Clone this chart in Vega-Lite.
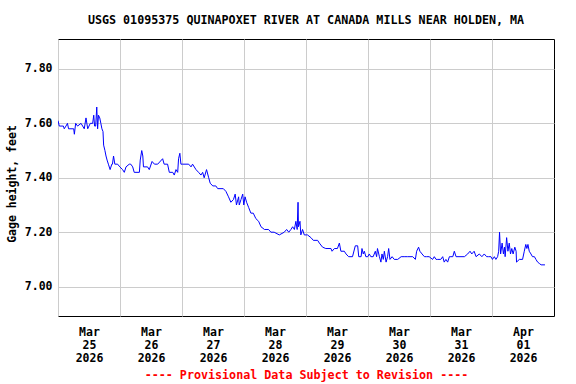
{
  "$schema": "https://vega.github.io/schema/vega-lite/v6.json",
  "width": 496,
  "height": 277,
  "autosize": "none",
  "padding": {"left": 58, "top": 39, "right": 22, "bottom": 68},
  "background": "white",
  "view": {"stroke": "black", "strokeWidth": 1},
  "title": {
    "text": "USGS 01095375 QUINAPOXET RIVER AT CANADA MILLS NEAR HOLDEN, MA",
    "font": "DejaVu Sans Mono",
    "fontSize": 11.7,
    "fontWeight": "bold",
    "color": "black",
    "anchor": "middle",
    "baseline": "alphabetic",
    "offset": 3
  },
  "data": {
    "values": [
      {"t": "2026-03-25T00:00", "v": 7.61},
      {"t": "2026-03-25T00:30", "v": 7.59},
      {"t": "2026-03-25T02:05", "v": 7.59},
      {"t": "2026-03-25T02:25", "v": 7.58},
      {"t": "2026-03-25T03:05", "v": 7.59},
      {"t": "2026-03-25T03:40", "v": 7.60},
      {"t": "2026-03-25T04:05", "v": 7.58},
      {"t": "2026-03-25T06:05", "v": 7.58},
      {"t": "2026-03-25T06:20", "v": 7.56},
      {"t": "2026-03-25T06:50", "v": 7.60},
      {"t": "2026-03-25T07:35", "v": 7.59},
      {"t": "2026-03-25T08:55", "v": 7.60},
      {"t": "2026-03-25T10:10", "v": 7.58},
      {"t": "2026-03-25T10:50", "v": 7.62},
      {"t": "2026-03-25T11:30", "v": 7.58},
      {"t": "2026-03-25T12:30", "v": 7.60},
      {"t": "2026-03-25T13:25", "v": 7.60},
      {"t": "2026-03-25T13:50", "v": 7.63},
      {"t": "2026-03-25T14:10", "v": 7.59},
      {"t": "2026-03-25T14:35", "v": 7.59},
      {"t": "2026-03-25T15:00", "v": 7.66},
      {"t": "2026-03-25T15:20", "v": 7.58},
      {"t": "2026-03-25T15:40", "v": 7.63},
      {"t": "2026-03-25T16:10", "v": 7.62},
      {"t": "2026-03-25T16:35", "v": 7.60},
      {"t": "2026-03-25T17:00", "v": 7.58},
      {"t": "2026-03-25T17:25", "v": 7.57},
      {"t": "2026-03-25T17:40", "v": 7.52},
      {"t": "2026-03-25T18:10", "v": 7.50},
      {"t": "2026-03-25T18:35", "v": 7.48},
      {"t": "2026-03-25T19:00", "v": 7.465},
      {"t": "2026-03-25T19:30", "v": 7.45},
      {"t": "2026-03-25T20:10", "v": 7.43},
      {"t": "2026-03-25T20:50", "v": 7.45},
      {"t": "2026-03-25T21:05", "v": 7.45},
      {"t": "2026-03-25T21:30", "v": 7.48},
      {"t": "2026-03-25T22:00", "v": 7.45},
      {"t": "2026-03-25T23:05", "v": 7.45},
      {"t": "2026-03-25T23:55", "v": 7.44},
      {"t": "2026-03-26T01:00", "v": 7.43},
      {"t": "2026-03-26T01:40", "v": 7.42},
      {"t": "2026-03-26T02:20", "v": 7.44},
      {"t": "2026-03-26T03:35", "v": 7.45},
      {"t": "2026-03-26T04:10", "v": 7.45},
      {"t": "2026-03-26T04:55", "v": 7.44},
      {"t": "2026-03-26T05:30", "v": 7.42},
      {"t": "2026-03-26T07:30", "v": 7.42},
      {"t": "2026-03-26T07:50", "v": 7.465},
      {"t": "2026-03-26T08:25", "v": 7.50},
      {"t": "2026-03-26T08:50", "v": 7.48},
      {"t": "2026-03-26T09:05", "v": 7.44},
      {"t": "2026-03-26T10:40", "v": 7.44},
      {"t": "2026-03-26T11:20", "v": 7.43},
      {"t": "2026-03-26T12:25", "v": 7.46},
      {"t": "2026-03-26T13:20", "v": 7.45},
      {"t": "2026-03-26T14:35", "v": 7.45},
      {"t": "2026-03-26T16:30", "v": 7.47},
      {"t": "2026-03-26T17:05", "v": 7.45},
      {"t": "2026-03-26T18:25", "v": 7.45},
      {"t": "2026-03-26T19:05", "v": 7.42},
      {"t": "2026-03-26T20:25", "v": 7.42},
      {"t": "2026-03-26T21:00", "v": 7.41},
      {"t": "2026-03-26T21:40", "v": 7.43},
      {"t": "2026-03-26T22:20", "v": 7.42},
      {"t": "2026-03-26T22:40", "v": 7.47},
      {"t": "2026-03-26T23:10", "v": 7.49},
      {"t": "2026-03-26T23:35", "v": 7.45},
      {"t": "2026-03-27T00:10", "v": 7.45},
      {"t": "2026-03-27T02:35", "v": 7.45},
      {"t": "2026-03-27T03:30", "v": 7.44},
      {"t": "2026-03-27T04:05", "v": 7.45},
      {"t": "2026-03-27T05:25", "v": 7.43},
      {"t": "2026-03-27T06:25", "v": 7.42},
      {"t": "2026-03-27T07:20", "v": 7.41},
      {"t": "2026-03-27T08:00", "v": 7.42},
      {"t": "2026-03-27T08:35", "v": 7.40},
      {"t": "2026-03-27T09:30", "v": 7.43},
      {"t": "2026-03-27T10:20", "v": 7.40},
      {"t": "2026-03-27T10:55", "v": 7.38},
      {"t": "2026-03-27T11:55", "v": 7.37},
      {"t": "2026-03-27T13:05", "v": 7.37},
      {"t": "2026-03-27T13:50", "v": 7.36},
      {"t": "2026-03-27T16:00", "v": 7.36},
      {"t": "2026-03-27T17:00", "v": 7.35},
      {"t": "2026-03-27T18:00", "v": 7.33},
      {"t": "2026-03-27T18:55", "v": 7.31},
      {"t": "2026-03-27T19:55", "v": 7.32},
      {"t": "2026-03-27T20:35", "v": 7.34},
      {"t": "2026-03-27T21:05", "v": 7.30},
      {"t": "2026-03-27T21:55", "v": 7.33},
      {"t": "2026-03-27T22:10", "v": 7.30},
      {"t": "2026-03-27T22:50", "v": 7.32},
      {"t": "2026-03-27T23:30", "v": 7.34},
      {"t": "2026-03-27T23:55", "v": 7.30},
      {"t": "2026-03-28T00:25", "v": 7.33},
      {"t": "2026-03-28T01:00", "v": 7.31},
      {"t": "2026-03-28T01:50", "v": 7.29},
      {"t": "2026-03-28T02:40", "v": 7.27},
      {"t": "2026-03-28T03:35", "v": 7.27},
      {"t": "2026-03-28T04:35", "v": 7.25},
      {"t": "2026-03-28T05:40", "v": 7.24},
      {"t": "2026-03-28T06:35", "v": 7.22},
      {"t": "2026-03-28T07:55", "v": 7.21},
      {"t": "2026-03-28T09:30", "v": 7.21},
      {"t": "2026-03-28T10:25", "v": 7.20},
      {"t": "2026-03-28T11:40", "v": 7.20},
      {"t": "2026-03-28T13:40", "v": 7.19},
      {"t": "2026-03-28T15:35", "v": 7.20},
      {"t": "2026-03-28T16:30", "v": 7.21},
      {"t": "2026-03-28T17:20", "v": 7.20},
      {"t": "2026-03-28T18:10", "v": 7.21},
      {"t": "2026-03-28T18:50", "v": 7.22},
      {"t": "2026-03-28T19:30", "v": 7.21},
      {"t": "2026-03-28T20:05", "v": 7.24},
      {"t": "2026-03-28T20:35", "v": 7.21},
      {"t": "2026-03-28T20:55", "v": 7.31},
      {"t": "2026-03-28T21:05", "v": 7.22},
      {"t": "2026-03-28T21:40", "v": 7.24},
      {"t": "2026-03-28T22:00", "v": 7.19},
      {"t": "2026-03-28T22:40", "v": 7.21},
      {"t": "2026-03-28T23:20", "v": 7.19},
      {"t": "2026-03-29T00:35", "v": 7.19},
      {"t": "2026-03-29T01:55", "v": 7.18},
      {"t": "2026-03-29T02:50", "v": 7.17},
      {"t": "2026-03-29T04:30", "v": 7.17},
      {"t": "2026-03-29T05:10", "v": 7.16},
      {"t": "2026-03-29T06:25", "v": 7.145},
      {"t": "2026-03-29T07:40", "v": 7.14},
      {"t": "2026-03-29T09:40", "v": 7.14},
      {"t": "2026-03-29T10:05", "v": 7.13},
      {"t": "2026-03-29T11:00", "v": 7.14},
      {"t": "2026-03-29T12:10", "v": 7.14},
      {"t": "2026-03-29T12:55", "v": 7.16},
      {"t": "2026-03-29T13:30", "v": 7.13},
      {"t": "2026-03-29T14:50", "v": 7.13},
      {"t": "2026-03-29T15:30", "v": 7.12},
      {"t": "2026-03-29T16:30", "v": 7.11},
      {"t": "2026-03-29T18:00", "v": 7.11},
      {"t": "2026-03-29T19:05", "v": 7.15},
      {"t": "2026-03-29T20:00", "v": 7.15},
      {"t": "2026-03-29T20:25", "v": 7.11},
      {"t": "2026-03-29T21:20", "v": 7.11},
      {"t": "2026-03-29T21:40", "v": 7.14},
      {"t": "2026-03-29T22:10", "v": 7.12},
      {"t": "2026-03-29T22:35", "v": 7.13},
      {"t": "2026-03-29T23:10", "v": 7.11},
      {"t": "2026-03-29T23:55", "v": 7.11},
      {"t": "2026-03-30T00:30", "v": 7.12},
      {"t": "2026-03-30T01:05", "v": 7.11},
      {"t": "2026-03-30T02:00", "v": 7.11},
      {"t": "2026-03-30T02:50", "v": 7.13},
      {"t": "2026-03-30T03:20", "v": 7.11},
      {"t": "2026-03-30T03:40", "v": 7.14},
      {"t": "2026-03-30T04:25", "v": 7.11},
      {"t": "2026-03-30T05:00", "v": 7.09},
      {"t": "2026-03-30T05:25", "v": 7.12},
      {"t": "2026-03-30T05:55", "v": 7.10},
      {"t": "2026-03-30T06:20", "v": 7.13},
      {"t": "2026-03-30T07:00", "v": 7.09},
      {"t": "2026-03-30T07:35", "v": 7.11},
      {"t": "2026-03-30T08:00", "v": 7.14},
      {"t": "2026-03-30T08:30", "v": 7.10},
      {"t": "2026-03-30T09:20", "v": 7.11},
      {"t": "2026-03-30T10:10", "v": 7.10},
      {"t": "2026-03-30T11:30", "v": 7.10},
      {"t": "2026-03-30T12:50", "v": 7.11},
      {"t": "2026-03-30T14:00", "v": 7.11},
      {"t": "2026-03-30T15:20", "v": 7.11},
      {"t": "2026-03-30T17:20", "v": 7.11},
      {"t": "2026-03-30T18:20", "v": 7.10},
      {"t": "2026-03-30T18:50", "v": 7.13},
      {"t": "2026-03-30T19:35", "v": 7.145},
      {"t": "2026-03-30T20:05", "v": 7.13},
      {"t": "2026-03-30T20:55", "v": 7.12},
      {"t": "2026-03-30T21:50", "v": 7.11},
      {"t": "2026-03-30T22:40", "v": 7.11},
      {"t": "2026-03-30T23:40", "v": 7.11},
      {"t": "2026-03-31T01:00", "v": 7.10},
      {"t": "2026-03-31T01:40", "v": 7.11},
      {"t": "2026-03-31T02:20", "v": 7.10},
      {"t": "2026-03-31T03:00", "v": 7.10},
      {"t": "2026-03-31T04:10", "v": 7.10},
      {"t": "2026-03-31T04:55", "v": 7.11},
      {"t": "2026-03-31T05:30", "v": 7.09},
      {"t": "2026-03-31T06:10", "v": 7.10},
      {"t": "2026-03-31T06:50", "v": 7.09},
      {"t": "2026-03-31T07:30", "v": 7.11},
      {"t": "2026-03-31T08:05", "v": 7.11},
      {"t": "2026-03-31T08:50", "v": 7.11},
      {"t": "2026-03-31T09:25", "v": 7.13},
      {"t": "2026-03-31T10:05", "v": 7.11},
      {"t": "2026-03-31T13:20", "v": 7.11},
      {"t": "2026-03-31T14:35", "v": 7.12},
      {"t": "2026-03-31T15:30", "v": 7.13},
      {"t": "2026-03-31T16:10", "v": 7.12},
      {"t": "2026-03-31T17:05", "v": 7.13},
      {"t": "2026-03-31T17:50", "v": 7.11},
      {"t": "2026-03-31T19:05", "v": 7.12},
      {"t": "2026-03-31T20:05", "v": 7.11},
      {"t": "2026-03-31T21:00", "v": 7.12},
      {"t": "2026-03-31T21:55", "v": 7.11},
      {"t": "2026-03-31T22:40", "v": 7.11},
      {"t": "2026-03-31T23:35", "v": 7.11},
      {"t": "2026-04-01T00:10", "v": 7.10},
      {"t": "2026-04-01T00:55", "v": 7.11},
      {"t": "2026-04-01T01:30", "v": 7.10},
      {"t": "2026-04-01T02:10", "v": 7.11},
      {"t": "2026-04-01T02:35", "v": 7.13},
      {"t": "2026-04-01T02:55", "v": 7.20},
      {"t": "2026-04-01T03:20", "v": 7.12},
      {"t": "2026-04-01T03:55", "v": 7.16},
      {"t": "2026-04-01T04:25", "v": 7.12},
      {"t": "2026-04-01T04:50", "v": 7.145},
      {"t": "2026-04-01T05:05", "v": 7.11},
      {"t": "2026-04-01T05:40", "v": 7.18},
      {"t": "2026-04-01T06:10", "v": 7.13},
      {"t": "2026-04-01T06:40", "v": 7.16},
      {"t": "2026-04-01T07:10", "v": 7.12},
      {"t": "2026-04-01T07:40", "v": 7.14},
      {"t": "2026-04-01T08:10", "v": 7.12},
      {"t": "2026-04-01T08:50", "v": 7.145},
      {"t": "2026-04-01T09:20", "v": 7.13},
      {"t": "2026-04-01T09:30", "v": 7.09},
      {"t": "2026-04-01T10:35", "v": 7.10},
      {"t": "2026-04-01T11:50", "v": 7.10},
      {"t": "2026-04-01T12:30", "v": 7.13},
      {"t": "2026-04-01T13:05", "v": 7.155},
      {"t": "2026-04-01T13:30", "v": 7.14},
      {"t": "2026-04-01T13:55", "v": 7.155},
      {"t": "2026-04-01T14:25", "v": 7.13},
      {"t": "2026-04-01T15:05", "v": 7.12},
      {"t": "2026-04-01T15:40", "v": 7.11},
      {"t": "2026-04-01T16:25", "v": 7.11},
      {"t": "2026-04-01T17:00", "v": 7.10},
      {"t": "2026-04-01T17:40", "v": 7.09},
      {"t": "2026-04-01T18:20", "v": 7.085},
      {"t": "2026-04-01T19:00", "v": 7.08},
      {"t": "2026-04-01T20:30", "v": 7.08}
    ]
  },
  "mark": {"type": "line", "color": "#0000ff", "strokeWidth": 1, "interpolate": "linear", "clip": true},
  "encoding": {
    "x": {
      "field": "t",
      "type": "temporal",
      "scale": {"domain": [{"year": 2026, "month": 3, "date": 25}, {"year": 2026, "month": 4, "date": 2}], "nice": false},
      "axis": {
        "values": [
          {"year": 2026, "month": 3, "date": 25},
          {"year": 2026, "month": 3, "date": 26},
          {"year": 2026, "month": 3, "date": 27},
          {"year": 2026, "month": 3, "date": 28},
          {"year": 2026, "month": 3, "date": 29},
          {"year": 2026, "month": 3, "date": 30},
          {"year": 2026, "month": 3, "date": 31},
          {"year": 2026, "month": 4, "date": 1}
        ],
        "labelExpr": "[timeFormat(datum.value, '%b'), timeFormat(datum.value, '%d'), timeFormat(datum.value, '%Y')]",
        "labelOffset": 31,
        "labelPadding": 10,
        "labelLineHeight": 13,
        "labelFont": "DejaVu Sans Mono",
        "labelFontSize": 11.5,
        "labelFontWeight": "bold",
        "labelColor": "black",
        "labelBound": false,
        "labelFlush": false,
        "labelOverlap": false,
        "ticks": false,
        "domain": false,
        "grid": true,
        "gridColor": "#cccccc",
        "gridWidth": 1,
        "gridOpacity": 1,
        "title": "---- Provisional Data Subject to Revision ----",
        "titleFont": "DejaVu Sans Mono",
        "titleFontSize": 11.7,
        "titleFontWeight": "bold",
        "titleColor": "#ff0000",
        "titlePadding": 6
      }
    },
    "y": {
      "field": "v",
      "type": "quantitative",
      "scale": {"domain": [6.892, 7.910], "nice": false, "zero": false},
      "axis": {
        "values": [7.0, 7.2, 7.4, 7.6, 7.8],
        "format": ".2f",
        "labelFont": "DejaVu Sans Mono",
        "labelFontSize": 11.5,
        "labelFontWeight": "bold",
        "labelColor": "black",
        "labelPadding": 6,
        "ticks": false,
        "domain": false,
        "grid": true,
        "gridColor": "#cccccc",
        "gridWidth": 1,
        "gridOpacity": 1,
        "title": "Gage height, feet",
        "titleFont": "DejaVu Sans Mono",
        "titleFontSize": 11.5,
        "titleFontWeight": "bold",
        "titleColor": "black",
        "titleX": -46,
        "titleY": 144.5,
        "titleBaseline": "middle",
        "titleAlign": "center",
        "titleAngle": -90
      }
    }
  }
}
